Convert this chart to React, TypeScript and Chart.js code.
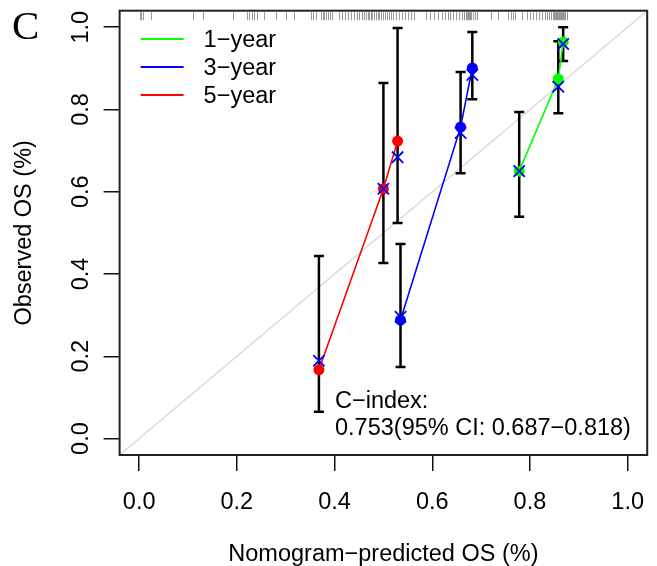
import React, { useEffect, useRef } from "react";
import { Chart, registerables } from "chart.js";

Chart.register(...registerables);

// ---------- data ----------
const AXIS_RANGE = [-0.04, 1.04];
const X_TICKS = [0, 0.2, 0.4, 0.6, 0.8, 1.0];
const Y_TICKS = [0, 0.2, 0.4, 0.6, 0.8, 1.0];
const TICK_LABELS = ["0.0", "0.2", "0.4", "0.6", "0.8", "1.0"];

const SERIES_NAMES = ["1\u2212year", "3\u2212year", "5\u2212year"];

const PRED_1Y = [0.778, 0.858, 0.868];
const OBS_1Y = [0.65, 0.874, 0.964];
const CORR_1Y = [0.65, 0.855, 0.959];
const LO_1Y = [0.539, 0.791, 0.918];
const HI_1Y = [0.794, 0.966, 1.0];

const PRED_3Y = [0.535, 0.658, 0.682];
const OBS_3Y = [0.288, 0.757, 0.901];
const CORR_3Y = [0.296, 0.743, 0.884];
const LO_3Y = [0.174, 0.645, 0.825];
const HI_3Y = [0.473, 0.891, 0.988];

const PRED_5Y = [0.368, 0.5, 0.529];
const OBS_5Y = [0.167, 0.607, 0.723];
const CORR_5Y = [0.189, 0.607, 0.684];
const LO_5Y = [0.065, 0.427, 0.524];
const HI_5Y = [0.444, 0.864, 0.998];

// predicted-probability rug along the top
const RUG = [
  0.001, 0.004, 0.007, 0.024, 0.11, 0.13, 0.193, 0.22, 0.224, 0.23, 0.236, 0.242,
  0.256, 0.28, 0.301, 0.317, 0.352, 0.356, 0.362, 0.372, 0.376, 0.378, 0.382,
  0.386, 0.39, 0.394, 0.4085, 0.4146, 0.4207, 0.4268, 0.4329, 0.439, 0.4451,
  0.4492, 0.4553, 0.4593, 0.4634, 0.4675, 0.4715, 0.4736, 0.4776, 0.4817, 0.4858,
  0.4898, 0.4919, 0.4959, 0.5, 0.5041, 0.5081, 0.5122, 0.5163, 0.5203, 0.5264,
  0.5325, 0.5386, 0.5447, 0.5508, 0.5569, 0.563, 0.5874, 0.5955, 0.6037, 0.6118,
  0.6199, 0.626, 0.6321, 0.6362, 0.6423, 0.6484, 0.6545, 0.6606, 0.6646, 0.6687,
  0.6707, 0.6728, 0.6748, 0.6768, 0.6789, 0.6829, 0.687, 0.6911, 0.7195, 0.7337,
  0.7541, 0.7602, 0.7663, 0.7703, 0.7846, 0.7947, 0.8008, 0.8069, 0.813, 0.8191,
  0.8252, 0.8313, 0.8354, 0.8394, 0.8435, 0.8476, 0.8496, 0.8516, 0.8537, 0.8557,
  0.8577, 0.8598, 0.8618, 0.8638, 0.8659, 0.8679, 0.8699, 0.872, 0.876,
];

const CINDEX_LINES = ["C\u2212index:", "0.753(95% CI: 0.687\u22120.818)"];
const X_TITLE = "Nomogram\u2212predicted OS (%)";
const Y_TITLE = "Observed OS (%)";
const PANEL_LABEL = "C";

const COLORS = ["#00ff00", "#0000ff", "#ff0000"];
const FONT = "'Liberation Sans', Arial, sans-serif";

const pts = (xs: number[], ys: number[]) => xs.map((x, i) => ({ x, y: ys[i] }));
const bars = (xs: number[], lo: number[], hi: number[]) => {
  const out: { x: number; y: number | null }[] = [];
  xs.forEach((x, i) => {
    out.push({ x, y: lo[i] });
    out.push({ x, y: hi[i] });
    out.push({ x, y: null });
  });
  return out;
};

const decorPlugin = {
  id: "decor",
  afterDatasetsDraw(chart: any) {
    const { ctx } = chart;
    const a = chart.chartArea;
    const xs = chart.scales.x;
    const ys = chart.scales.y;
    ctx.save();
    // rug
    ctx.strokeStyle = "rgba(0,0,0,0.4)";
    ctx.lineWidth = 1;
    RUG.forEach((v) => {
      const px = Math.round(xs.getPixelForValue(v)) + 0.5;
      ctx.beginPath();
      ctx.moveTo(px, a.top + 1.5);
      ctx.lineTo(px, a.top + 9.5);
      ctx.stroke();
    });
    // box
    ctx.strokeStyle = "#222";
    ctx.lineWidth = 2;
    ctx.strokeRect(a.left, a.top, a.right - a.left, a.bottom - a.top);

    // legend
    ctx.font = `23.5px ${FONT}`;
    ctx.fillStyle = "#000";
    ctx.textAlign = "left";
    ctx.textBaseline = "alphabetic";
    SERIES_NAMES.forEach((name, i) => {
      const y = 39 + i * 28;
      ctx.strokeStyle = COLORS[i];
      ctx.lineWidth = 2;
      ctx.beginPath();
      ctx.moveTo(a.left + 21, y);
      ctx.lineTo(a.left + 64, y);
      ctx.stroke();
      ctx.fillText(name, a.left + 84, y + 8);
    });

    // C-index text
    ctx.fillText(CINDEX_LINES[0], 335, 408);
    ctx.fillText(CINDEX_LINES[1], 335, 435);

    // x tick labels
    ctx.textAlign = "center";
    X_TICKS.forEach((v, i) => {
      ctx.fillText(TICK_LABELS[i], xs.getPixelForValue(v), a.bottom + 54);
    });
    // x title
    ctx.fillText(X_TITLE, (a.left + a.right) / 2, a.bottom + 106);

    // y tick labels (rotated)
    Y_TICKS.forEach((v, i) => {
      ctx.save();
      ctx.translate(a.left - 31.5, ys.getPixelForValue(v));
      ctx.rotate(-Math.PI / 2);
      ctx.fillText(TICK_LABELS[i], 0, 0);
      ctx.restore();
    });
    // y title
    ctx.save();
    ctx.translate(31, (a.top + a.bottom) / 2);
    ctx.rotate(-Math.PI / 2);
    ctx.fillText(Y_TITLE, 0, 0);
    ctx.restore();

    // panel label
    ctx.textAlign = "left";
    ctx.font = `41px 'Liberation Serif', 'Times New Roman', serif`;
    ctx.fillText(PANEL_LABEL, 12, 39);
    ctx.restore();
  },
};

export default function App() {
  const ref = useRef<HTMLCanvasElement | null>(null);
  useEffect(() => {
    if (!ref.current) return;
    const series = [
      { pred: PRED_1Y, obs: OBS_1Y, corr: CORR_1Y, lo: LO_1Y, hi: HI_1Y },
      { pred: PRED_3Y, obs: OBS_3Y, corr: CORR_3Y, lo: LO_3Y, hi: HI_3Y },
      { pred: PRED_5Y, obs: OBS_5Y, corr: CORR_5Y, lo: LO_5Y, hi: HI_5Y },
    ];
    const datasets: any[] = [
      {
        label: "ideal",
        data: pts(AXIS_RANGE, AXIS_RANGE),
        showLine: true,
        borderColor: "#dadada",
        borderWidth: 1.5,
        pointRadius: 0,
        order: 10,
      },
    ];
    series.forEach((s, i) => {
      datasets.push({
        label: SERIES_NAMES[i] + " CI",
        data: bars(s.pred, s.lo, s.hi),
        showLine: true,
        spanGaps: false,
        borderColor: "#000",
        borderWidth: 2.5,
        pointStyle: "line",
        pointRadius: 5,
        pointBorderColor: "#000",
        pointBorderWidth: 2.5,
        order: 8,
      });
    });
    series.forEach((s, i) => {
      datasets.push({
        label: SERIES_NAMES[i],
        data: pts(s.pred, s.obs),
        showLine: true,
        borderColor: COLORS[i],
        borderWidth: 1.6,
        pointStyle: "circle",
        pointRadius: 5.5,
        pointBackgroundColor: COLORS[i],
        pointBorderColor: COLORS[i],
        pointBorderWidth: 0,
        order: 6,
      });
    });
    series.forEach((s, i) => {
      datasets.push({
        label: SERIES_NAMES[i] + " corrected",
        data: pts(s.pred, s.corr),
        showLine: false,
        pointStyle: "crossRot",
        pointRadius: 8,
        pointBorderColor: "#0000ff",
        pointBorderWidth: 1.8,
        order: 2,
      });
    });

    const chart = new Chart(ref.current, {
      type: "scatter",
      data: { datasets },
      options: {
        animation: false,
        responsive: false,
        events: [],
        layout: { padding: { top: 10.7, right: 9, left: 0, bottom: 0 } },
        plugins: { legend: { display: false }, tooltip: { enabled: false } },
        scales: {
          x: {
            type: "linear",
            min: AXIS_RANGE[0],
            max: AXIS_RANGE[1],
            afterBuildTicks: (s: any) => {
              s.ticks = X_TICKS.map((v) => ({ value: v }));
            },
            afterFit: (s: any) => {
              s.height = 111;
            },
            ticks: { display: false },
            border: { display: false },
            grid: {
              drawOnChartArea: false,
              drawTicks: true,
              tickLength: 16,
              color: "#111",
              lineWidth: 1.5,
            },
          },
          y: {
            type: "linear",
            min: AXIS_RANGE[0],
            max: AXIS_RANGE[1],
            afterBuildTicks: (s: any) => {
              s.ticks = Y_TICKS.map((v) => ({ value: v }));
            },
            afterFit: (s: any) => {
              s.width = 119.6;
            },
            ticks: { display: false },
            border: { display: false },
            grid: {
              drawOnChartArea: false,
              drawTicks: true,
              tickLength: 16,
              color: "#111",
              lineWidth: 1.5,
            },
          },
        },
      },
      plugins: [decorPlugin],
    });
    return () => chart.destroy();
  }, []);

  return (
    <div style={{ position: "absolute", left: 0, top: 0, width: 657, height: 566, background: "#fff" }}>
      <canvas ref={ref} width={657} height={566} style={{ display: "block", width: 657, height: 566 }} />
    </div>
  );
}
